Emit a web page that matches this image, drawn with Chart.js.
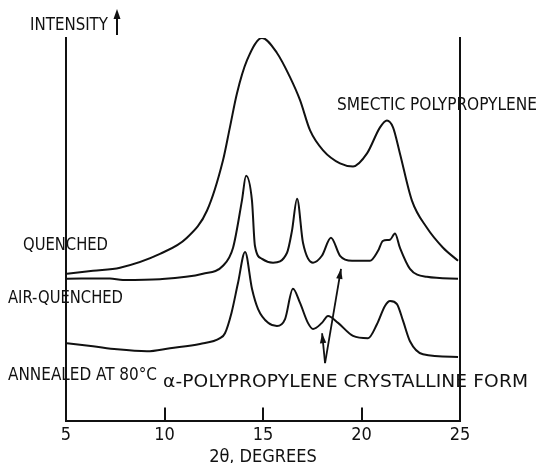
<!DOCTYPE html>
<html>
<head>
<meta charset="utf-8">
<script src="https://cdn.jsdelivr.net/npm/chart.js@4"></script>
<style>
    body { margin: 0; background: #fff; }
    #wrap { width: 540px; height: 463px; }
</style>
</head>
<body>
<div id="wrap"><canvas id="xrd" width="540" height="463"></canvas></div>
<script>
// Diffractogrammes (2θ en degrés, intensité en unités arbitraires)
const quenchedTheta = [5.05, 6.37, 7.74, 9.77, 11.14, 12.16, 12.97, 13.32, 13.68, 14.19, 14.95, 15.71, 16.37, 16.88, 17.39, 18.05, 18.91, 19.57, 20.28, 20.94, 21.29, 21.6, 21.95, 22.56, 23.32, 24.14, 24.9];
const quenchedIntensity = [38.5, 39.3, 40.1, 43.7, 47.9, 55.0, 68.1, 76.7, 85.6, 94.2, 100, 96.1, 89.8, 83.8, 75.9, 70.7, 67.3, 66.5, 69.9, 76.7, 78.5, 76.7, 69.9, 57.6, 50.5, 45.3, 41.9];

const airTheta = [5.05, 7.23, 7.89, 9.77, 11.95, 12.97, 13.48, 13.93, 14.14, 14.44, 14.59, 14.95, 15.51, 16.22, 16.47, 16.73, 17.03, 17.54, 17.99, 18.45, 18.91, 19.52, 20.43, 20.84, 21.09, 21.45, 21.7, 21.95, 22.46, 23.32, 24.9];
const airIntensity = [37.2, 37.3, 36.9, 37.1, 38.5, 40.6, 45.3, 57.6, 64.1, 57.6, 45.8, 42.4, 41.4, 44.0, 49.7, 58.1, 46.6, 41.4, 43.2, 47.9, 43.2, 41.9, 41.9, 44.5, 47.1, 47.4, 49.0, 45.3, 39.8, 37.7, 37.2];

const annealedTheta = [5.05, 6.37, 7.59, 9.11, 10.28, 11.8, 12.82, 13.07, 13.4, 13.73, 14.09, 14.44, 14.75, 15.26, 15.71, 16.12, 16.52, 16.88, 17.28, 17.54, 17.99, 18.3, 18.81, 19.57, 20.33, 20.79, 21.19, 21.45, 21.8, 22.11, 22.46, 23.12, 24.9];
const annealedIntensity = [20.4, 19.6, 18.8, 18.3, 19.1, 20.2, 21.7, 23.0, 28.3, 36.1, 44.2, 34.6, 29.3, 25.7, 24.9, 26.7, 34.6, 30.9, 25.7, 24.1, 25.7, 27.5, 25.7, 22.3, 21.7, 25.4, 30.1, 31.4, 30.6, 26.2, 20.9, 17.5, 16.8];

// Graduations de l'axe 2θ
const thetaTicks = [5, 10, 15, 20, 25];
const innerTicks = [10, 15, 20];

// Flèches vers les pics de la forme α : [départ 2θ, départ I, pointe 2θ, pointe I]
const alphaArrows = [
    [18.15, 15.2, 18.96, 39.8],
    [18.15, 15.2, 18.0, 23.0]
];

const INK = '#111';
const FONT = "'Liberation Sans Narrow', 'DejaVu Sans Condensed', 'Liberation Sans', sans-serif";

// Textes : [texte, x gauche, y centre, largeur visée]
const labels = [
    ['INTENSITY', 30, 25, 78],
    ['SMECTIC POLYPROPYLENE', 337, 105, 200],
    ['QUENCHED', 23, 245, 85],
    ['AIR-QUENCHED', 8, 298, 115],
    ['ANNEALED AT 80°C', 8, 375, 149],
    ['α-POLYPROPYLENE CRYSTALLINE FORM', 163, 382, 365]
];

function toPoints(xs, ys) {
    return xs.map((x, i) => ({ x: x, y: ys[i] }));
}

function curve(xs, ys) {
    return {
        data: toPoints(xs, ys),
        borderColor: INK,
        borderWidth: 2,
        pointRadius: 0,
        fill: false,
        cubicInterpolationMode: 'monotone'
    };
}

// Texte ajusté à une largeur donnée : un peu d'élargissement, le reste en espacement
function fitText(ctx, text, x, y, w) {
    ctx.save();
    ctx.font = '18px ' + FONT;
    ctx.textBaseline = 'middle';
    ctx.fillStyle = INK;
    const m = ctx.measureText(text).width;
    const s = Math.min(w / m, 1.15);
    ctx.translate(x, y);
    ctx.scale(s, 1);
    const rest = w - m * s;
    if (rest > 0.5 && 'letterSpacing' in ctx) {
        ctx.letterSpacing = (rest / s / text.length).toFixed(2) + 'px';
    }
    ctx.fillText(text, 0, 0);
    ctx.restore();
}

function arrowHead(ctx, x1, y1, x2, y2, len, half) {
    const a = Math.atan2(y2 - y1, x2 - x1);
    ctx.beginPath();
    ctx.moveTo(x2, y2);
    ctx.lineTo(x2 - len * Math.cos(a) + half * Math.sin(a), y2 - len * Math.sin(a) - half * Math.cos(a));
    ctx.lineTo(x2 - len * Math.cos(a) - half * Math.sin(a), y2 - len * Math.sin(a) + half * Math.cos(a));
    ctx.closePath();
    ctx.fill();
}

const decorPlugin = {
    id: 'decor',
    afterDraw(chart) {
        const ctx = chart.ctx;
        const xs = chart.scales.x;
        const ys = chart.scales.y;
        const bottom = chart.chartArea.bottom;

        ctx.save();
        ctx.strokeStyle = INK;
        ctx.fillStyle = INK;
        ctx.lineWidth = 2;

        // graduations intérieures
        innerTicks.forEach(v => {
            const px = Math.round(xs.getPixelForValue(v));
            ctx.beginPath();
            ctx.moveTo(px, bottom);
            ctx.lineTo(px, bottom - 14);
            ctx.stroke();
        });

        // flèches α
        alphaArrows.forEach(a => {
            const x1 = xs.getPixelForValue(a[0]), y1 = ys.getPixelForValue(a[1]);
            const x2 = xs.getPixelForValue(a[2]), y2 = ys.getPixelForValue(a[3]);
            ctx.lineWidth = 1.8;
            ctx.beginPath();
            ctx.moveTo(x1, y1);
            ctx.lineTo(x2, y2);
            ctx.stroke();
            arrowHead(ctx, x1, y1, x2, y2, 10, 3.2);
        });

        // flèche INTENSITY
        ctx.lineWidth = 2;
        ctx.beginPath();
        ctx.moveTo(117, 35);
        ctx.lineTo(117, 16);
        ctx.stroke();
        arrowHead(ctx, 117, 35, 117, 9, 10, 3.5);
        ctx.restore();

        labels.forEach(l => fitText(ctx, l[0], l[1], l[2], l[3]));
    }
};

const frameAxis = (pos) => ({
    type: 'linear',
    position: pos,
    min: 0,
    max: 100,
    ticks: { display: false },
    grid: { drawOnChartArea: false, drawTicks: false },
    border: { display: true, color: INK, width: 2 }
});

new Chart(document.getElementById('xrd'), {
    type: 'line',
    data: {
        datasets: [
            curve(quenchedTheta, quenchedIntensity),
            curve(airTheta, airIntensity),
            curve(annealedTheta, annealedIntensity)
        ]
    },
    options: {
        responsive: false,
        animation: false,
        layout: { padding: { left: 66, right: 80, top: 38, bottom: -2 } },
        plugins: {
            legend: { display: false },
            tooltip: { enabled: false }
        },
        scales: {
            x: {
                type: 'linear',
                min: 5,
                max: 25,
                afterBuildTicks: (scale) => {
                    scale.ticks = thetaTicks.map(v => ({ value: v }));
                },
                ticks: {
                    color: INK,
                    padding: 2,
                    maxRotation: 0,
                    font: { family: FONT, size: 18, lineHeight: 1.3 }
                },
                grid: { drawOnChartArea: false, drawTicks: false },
                border: { display: true, color: INK, width: 2 },
                title: {
                    display: true,
                    text: '2θ, DEGREES',
                    color: INK,
                    padding: 0,
                    font: { family: FONT, size: 18, lineHeight: 0.9 }
                }
            },
            y: frameAxis('left'),
            y2: frameAxis('right')
        }
    },
    plugins: [decorPlugin]
});
</script>
</body>
</html>
